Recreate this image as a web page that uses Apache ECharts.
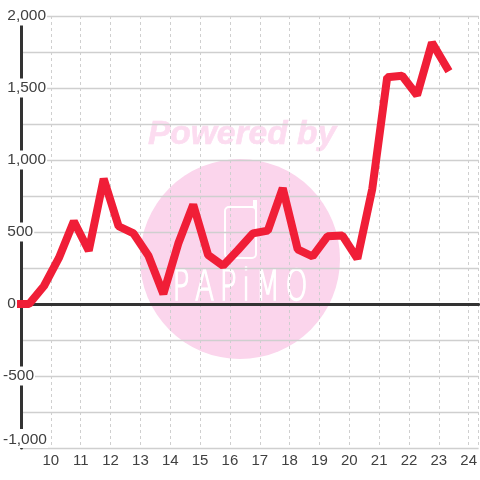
<!DOCTYPE html>
<html><head><meta charset="utf-8">
<style>html,body{margin:0;padding:0;background:#fff}#c{width:480px;height:480px}</style>
<script src="https://cdn.jsdelivr.net/npm/echarts@6/dist/echarts.min.js"></script>
</head><body><div id="c"></div>
<script>
const hours = [9,9.27,9.77,10.27,10.77,11.27,11.77,12.27,12.77,13.27,13.77,14.27,14.77,15.27,15.77,16.27,16.77,17.27,17.77,18.27,18.77,19.27,19.77,20.27,20.77,21.27,21.77,22.27,22.77,23.27];
const values = [0,0,125,320,575,370,870,540,490,335,70,420,690,340,265,375,490,510,805,380,330,470,475,315,800,1575,1585,1450,1815,1640];
const yTicks = {min:-1000,max:2000,step:500};
const xTicks = {min:9,max:24.3333,step:1};
const fmt = v => { const s = Math.abs(v).toLocaleString('en-US'); return v<0 ? '-'+s : '\u00a0'+s; };
const chart = echarts.init(document.getElementById('c'),null,{renderer:'canvas'});
const G='#cfcfcf', D='#333333', T='#404040';
chart.setOption({
  animation:false,
  backgroundColor:'#fff',
  grid:{left:20,right:0,top:16,bottom:32},
  graphic:[
    {type:'circle',z:-10,silent:true,shape:{cx:240,cy:259,r:100},style:{fill:'#fbd5ec'}},
    {type:'text',z:-10,silent:true,x:242,y:135,style:{text:'Powered by',fill:'#fcdcf0',stroke:'#fcdcf0',lineWidth:0.6,font:'italic bold 33.5px "Liberation Sans"',align:'center',verticalAlign:'middle'}},
    {type:'rect',z:-9,silent:true,shape:{x:225,y:207,width:31,height:51,r:4},style:{fill:'none',stroke:'#fff',lineWidth:2}},
    {type:'polyline',z:-9,silent:true,shape:{points:[[250,207],[254,207],[254,201],[256,201],[256,212]]},style:{fill:'none',stroke:'#fff',lineWidth:2}},
    {type:'text',z:-9,silent:true,x:240,y:289,scaleX:1,scaleY:1.5,style:{text:'P\u2009A\u2009P\u2009i\u2009M\u2009O',fill:'#fff',stroke:'#fff',lineWidth:1,font:'200 28px "DejaVu Sans"',align:'center',verticalAlign:'middle'}}
  ],
  xAxis:[{
    type:'value',min:xTicks.min,max:xTicks.max,interval:xTicks.step,position:'bottom',
    axisLine:{show:false,onZero:false},axisTick:{show:false},
    axisLabel:{showMinLabel:false,showMaxLabel:false,color:T,fontFamily:'"Liberation Sans"',fontSize:15,margin:5,hideOverlap:false},
    splitLine:{show:true,lineStyle:{color:G,type:[3,3],width:1}}
  },{
    type:'value',min:xTicks.min,max:xTicks.max,interval:xTicks.step,position:'bottom',
    axisLine:{show:true,onZero:true,onZeroAxisIndex:0,lineStyle:{color:D,width:3}},axisTick:{show:false},
    axisLabel:{show:false},splitLine:{show:false}
  }],
  yAxis:{
    type:'value',min:yTicks.min,max:yTicks.max,interval:yTicks.step,position:'left',
    axisLine:{show:true,onZero:false,lineStyle:{color:D,width:3}},axisTick:{show:false},
    minorTick:{show:false,splitNumber:2},
    axisLabel:{inside:true,margin:-18,align:'left',color:T,fontFamily:'"Liberation Sans"',fontSize:15.5,
      backgroundColor:'#fff',padding:[3,1,0,0],formatter:fmt,verticalAlignMinLabel:'bottom'},
    splitLine:{show:true,lineStyle:{color:G,width:1.3}},
    minorSplitLine:{show:true,lineStyle:{color:G,width:1.3}}
  },
  series:[{
    type:'line',xAxisIndex:0,yAxisIndex:0,data:hours.map((h,i)=>[h,values[i]]),
    symbol:'none',smooth:false,clip:false,z:5,
    lineStyle:{color:'#f01e37',width:8,cap:'square',join:'bevel'}
  }]
});
</script></body></html>
